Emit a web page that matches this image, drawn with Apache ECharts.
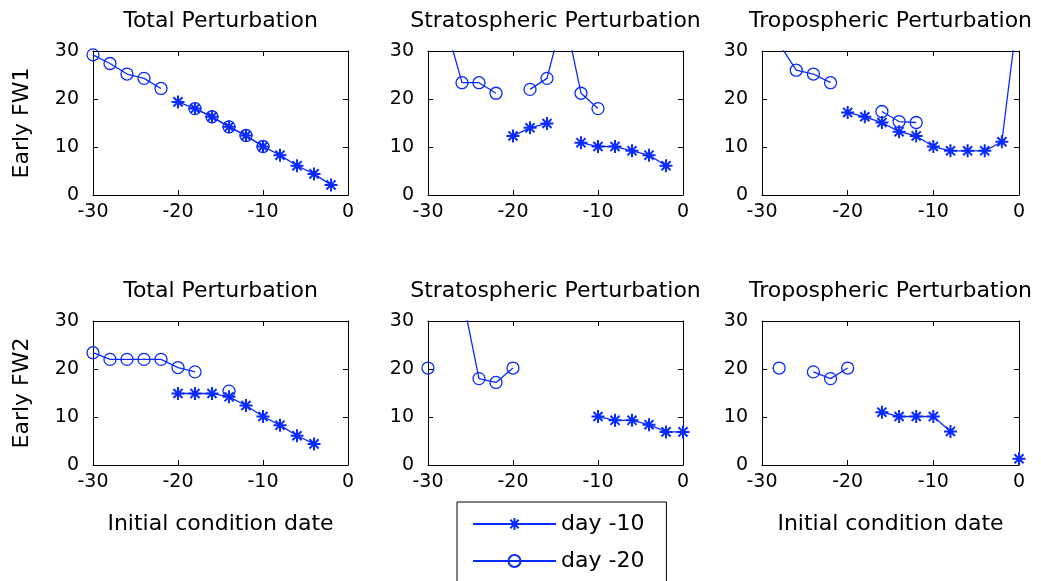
<!DOCTYPE html>
<html>
<head>
<meta charset="utf-8">
<title>Early FW sensitivity to initial condition date</title>
<script src="https://cdn.jsdelivr.net/npm/echarts@6/dist/echarts.min.js"></script>
<style>
  html, body { margin: 0; padding: 0; background: #fff; }
  #chart { width: 1041px; height: 581px; }
</style>
</head>
<body>
<div id="chart"></div>
<script>
// Initial condition dates (days relative to the event)
const dates = [-30, -28, -26, -24, -22, -20, -18, -16, -14, -12, -10, -8, -6, -4, -2, 0];

// Tick values shared by every panel
const xTicks = [-30, -20, -10, 0];
const yTicks = [0, 10, 20, 30];

const panelTitles = ['Total Perturbation', 'Stratospheric Perturbation', 'Tropospheric Perturbation'];
const rowNames = ['Early FW1', 'Early FW2'];
const seriesNames = ['day -10', 'day -20'];

// Early FW1 — one value per entry of `dates`, null where there is no value
const fw1TotalDay10 = [null, null, null, null, null, 19.4, 18.0, 16.3, 14.2, 12.4, 10.1, 8.3, 6.1, 4.4, 2.1, null];
const fw1TotalDay20 = [29.2, 27.4, 25.2, 24.3, 22.2, null, 18.0, 16.3, 14.2, 12.4, 10.1, null, null, null, null, null];
const fw1StratDay10 = [null, null, null, null, null, 12.3, 14.0, 14.9, null, 10.9, 10.1, 10.1, 9.2, 8.3, 6.1, null];
const fw1StratDay20 = [null, 36.0, 23.4, 23.4, 21.2, null, 22.0, 24.3, 38.0, 21.2, 18.0, null, null, null, null, null];
const fw1TropDay10 = [null, null, null, null, null, 17.2, 16.3, 15.1, 13.2, 12.3, 10.1, 9.2, 9.2, 9.2, 11.1, 40.0];
const fw1TropDay20 = [null, 31.5, 26.0, 25.2, 23.4, null, null, 17.4, 15.3, 15.1, null, null, null, null, null, null];

// Early FW2
const fw2TotalDay10 = [null, null, null, null, null, 14.9, 14.9, 14.9, 14.2, 12.4, 10.1, 8.3, 6.1, 4.4, null, null];
const fw2TotalDay20 = [23.4, 22.0, 22.0, 22.0, 22.0, 20.3, 19.4, null, 15.4, null, null, null, null, null, null, null];
const fw2StratDay10 = [null, null, null, null, null, null, null, null, null, null, 10.1, 9.3, 9.3, 8.4, 6.9, 6.9];
const fw2StratDay20 = [20.2, null, 35.5, 18.0, 17.2, 20.2, null, null, null, null, null, null, null, null, null, null];
const fw2TropDay10 = [null, null, null, null, null, null, null, 11.0, 10.1, 10.1, 10.1, 7.0, null, null, null, 1.3];
const fw2TropDay20 = [null, 20.2, null, 19.4, 18.0, 20.2, null, null, null, null, null, null, null, null, null, null];

const panelData = [
  [fw1TotalDay10, fw1TotalDay20], [fw1StratDay10, fw1StratDay20], [fw1TropDay10, fw1TropDay20],
  [fw2TotalDay10, fw2TotalDay20], [fw2StratDay10, fw2StratDay20], [fw2TropDay10, fw2TropDay20]
];

// ---- layout & styling ----
const FONT = 'DejaVu Sans';
const BLUE = '#0a2bff';
const colLeft = [93, 428, 762];
const colWidth = [255, 255, 257];
const rowTop = [51, 321];
const plotHeight = 144;

// MATLAB-style '*' marker: horizontal, vertical and two diagonal strokes
const STAR = 'path://M0,5L10,5M5,0L5,10M1.5,1.5L8.5,8.5M8.5,1.5L1.5,8.5';

const grids = [], xAxes = [], yAxes = [], series = [];

for (let p = 0; p < 6; p++) {
  const row = Math.floor(p / 3), col = p % 3;
  grids.push({ left: colLeft[col], top: rowTop[row], width: colWidth[col], height: plotHeight, containLabel: false });

  const axisLine = { show: true, onZero: false, lineStyle: { color: '#000', width: 1 } };
  const tick = { show: true, inside: true, length: 5, lineStyle: { color: '#000', width: 1 } };
  const labelStyle = { color: '#000', fontFamily: FONT, fontSize: 19 };

  // bottom x axis with tick labels
  xAxes.push({
    type: 'value', gridIndex: p, position: 'bottom',
    min: xTicks[0], max: xTicks[xTicks.length - 1], interval: 10,
    axisLine, axisTick: tick, splitLine: { show: false },
    axisLabel: Object.assign({ margin: 8, showMinLabel: true, showMaxLabel: true }, labelStyle),
    name: (row === 1 && col !== 1) ? 'Initial condition date' : '',
    nameLocation: 'middle', nameGap: 48,
    nameTextStyle: { color: '#000', fontFamily: FONT, fontSize: 22 }
  });
  // top x axis: box edge, ticks and the panel title
  xAxes.push({
    type: 'value', gridIndex: p, position: 'top',
    min: xTicks[0], max: xTicks[xTicks.length - 1], interval: 10,
    axisLine, axisTick: tick, splitLine: { show: false },
    axisLabel: { show: false },
    name: panelTitles[col], nameLocation: 'middle', nameGap: 19,
    nameTextStyle: { color: '#000', fontFamily: FONT, fontSize: 22 }
  });
  // left y axis with tick labels
  yAxes.push({
    type: 'value', gridIndex: p, position: 'left',
    min: yTicks[0], max: yTicks[yTicks.length - 1], interval: 10,
    axisLine, axisTick: tick, splitLine: { show: false },
    axisLabel: Object.assign({ margin: 14 }, labelStyle),
    name: col === 0 ? rowNames[row] : '',
    nameLocation: 'middle', nameGap: 60, nameRotate: 90,
    nameTextStyle: { color: '#000', fontFamily: FONT, fontSize: 22 }
  });
  // right y axis: box edge and ticks
  yAxes.push({
    type: 'value', gridIndex: p, position: 'right',
    min: yTicks[0], max: yTicks[yTicks.length - 1], interval: 10,
    axisLine, axisTick: tick, splitLine: { show: false },
    axisLabel: { show: false }
  });

  panelData[p].forEach((vals, s) => {
    const isStar = s === 0;
    series.push({
      name: seriesNames[s],
      type: 'line',
      xAxisIndex: 2 * p,
      yAxisIndex: 2 * p,
      clip: true,
      connectNulls: false,
      data: dates.map((d, k) => [d, vals[k] === null ? '-' : vals[k]]),
      symbol: isStar ? STAR : 'circle',
      symbolSize: isStar ? 13 : 12,
      showAllSymbol: true,
      lineStyle: { color: BLUE, width: 1.3 },
      itemStyle: isStar
        ? { color: BLUE, borderColor: BLUE, borderWidth: 2 }
        : { color: 'rgba(0,0,0,0)', borderColor: BLUE, borderWidth: 1.3 },
      emphasis: { disabled: true },
      animation: false,
      z: 2 + s
    });
  });
}

const chart = echarts.init(document.getElementById('chart'), null, { renderer: 'canvas' });
chart.setOption({
  backgroundColor: '#fff',
  animation: false,
  grid: grids,
  xAxis: xAxes,
  yAxis: yAxes,
  legend: {
    data: seriesNames,
    orient: 'vertical',
    left: 457, top: 502,
    height: 120,
    itemWidth: 83, itemHeight: 15, itemGap: 15,
    padding: [11, 22, 12, 15],
    borderColor: '#000', borderWidth: 1,
    backgroundColor: '#fff',
    selectedMode: false,
    textStyle: { color: '#000', fontFamily: FONT, fontSize: 22 }
  },
  series
});
</script>
</body>
</html>
